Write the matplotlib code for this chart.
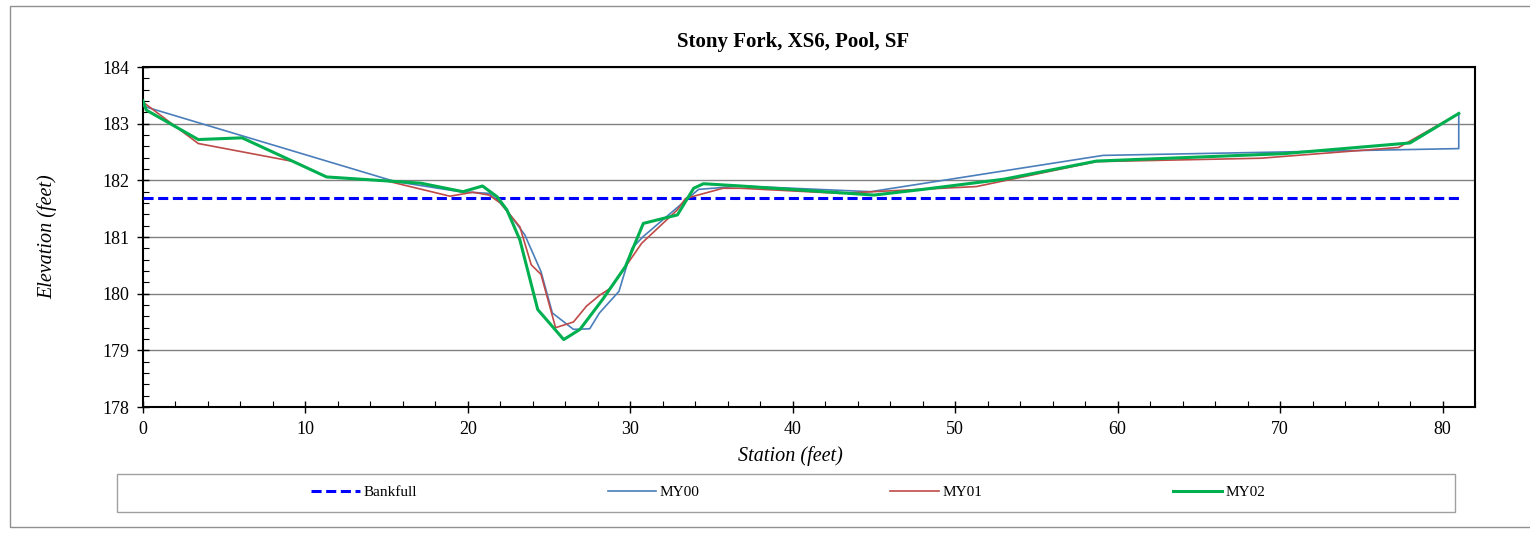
import matplotlib.pyplot as plt
from matplotlib.patches import Rectangle
from matplotlib.ticker import MultipleLocator

# Данные сечения (станция в футах, отметка в футах)
station_bankfull = [0, 81.0]
elev_bankfull = [181.68, 181.68]

station_my00 = [0, 15.5, 19.5, 21.3, 22.0, 22.6, 23.5, 23.9, 24.5, 25.2, 26.5, 27.5, 28.1,
                29.3, 30.1, 30.8, 34.2, 36.8, 44.8, 59.1, 81.0, 81.0]
elev_my00 = [183.31, 181.98, 181.80, 181.77, 181.60, 181.39, 181.04, 180.78, 180.39, 179.66,
             179.37, 179.38, 179.66, 180.04, 180.80, 181.01, 181.84, 181.90, 181.80, 182.44,
             182.56, 183.18]

station_my01 = [0, 3.4, 9.3, 11.3, 15.0, 18.9, 20.3, 21.3, 22.0, 23.2, 23.9, 24.5, 25.4, 26.5,
                27.3, 28.1, 28.8, 30.7, 32.9, 33.4, 35.7, 36.8, 42.9, 51.3, 58.7, 68.8, 77.3, 81.0]
elev_my01 = [183.38, 182.65, 182.33, 182.06, 181.99, 181.72, 181.79, 181.74, 181.60, 181.18,
             180.51, 180.34, 179.40, 179.50, 179.78, 179.97, 180.10, 180.89, 181.48, 181.68,
             181.86, 181.86, 181.77, 181.89, 182.33, 182.39, 182.58, 183.18]

station_my02 = [0, 0.2, 3.4, 6.1, 11.3, 17.1, 19.7, 20.9, 21.8, 22.4, 23.2, 24.3, 25.9, 26.9,
                28.3, 29.7, 30.8, 32.9, 33.9, 34.5, 36.8, 45.0, 48.0, 53.0, 58.7, 70.2, 78.0, 81.0]
elev_my02 = [183.40, 183.24, 182.72, 182.75, 182.06, 181.95, 181.80, 181.90, 181.71, 181.48,
             180.95, 179.72, 179.19, 179.37, 179.90, 180.48, 181.24, 181.39, 181.86, 181.94,
             181.90, 181.74, 181.84, 182.02, 182.34, 182.47, 182.66, 183.18]

W, H = 1530, 548


def main():
    plt.rcParams['font.family'] = ['Liberation Serif', 'DejaVu Serif']
    fig = plt.figure(figsize=(W / 100, H / 100), dpi=100)
    ax = fig.add_axes([143 / W, 1 - 407 / H, (1475 - 143) / W, (407 - 67) / H])

    # Линии
    ax.plot(station_bankfull, elev_bankfull, color='#0000ff', lw=2.2,
            dashes=(3.3, 1.5), label='Bankfull', zorder=3)
    ax.plot(station_my00, elev_my00, color='#4a7ebb', lw=1.2, label='MY00', zorder=4)
    ax.plot(station_my01, elev_my01, color='#be4b48', lw=1.2, label='MY01', zorder=5)
    ax.plot(station_my02, elev_my02, color='#00b050', lw=2.2, label='MY02', zorder=6)

    # Оси
    ax.set_xlim(0, 82)
    ax.set_ylim(178, 184)
    ax.xaxis.set_major_locator(MultipleLocator(10))
    ax.xaxis.set_minor_locator(MultipleLocator(2))
    ax.yaxis.set_major_locator(MultipleLocator(1))
    ax.yaxis.set_minor_locator(MultipleLocator(0.2))
    ax.tick_params(which='major', direction='inout', length=8, width=1, labelsize=13, pad=6)
    ax.tick_params(which='minor', direction='in', length=4, width=0.8)
    ax.grid(axis='y', which='major', color='#808080', lw=1)
    for s in ax.spines.values():
        s.set_linewidth(1.5)

    fig.text(793 / W, 1 - 42 / H, 'Stony Fork, XS6, Pool, SF', fontsize=15,
             fontweight='bold', ha='center', va='center')
    ax.set_xlabel('Station (feet)', fontsize=14.5, style='italic', labelpad=6, x=0.486)
    ax.set_ylabel('Elevation (feet)', fontsize=14.5, style='italic', labelpad=32)

    # Рамка легенды и внешняя рамка
    fig.patches.append(Rectangle((117 / W, 1 - 512 / H), 1338 / W, 38 / H, fill=False,
                                 edgecolor='#a0a0a0', lw=1, transform=fig.transFigure))
    fig.patches.append(Rectangle((10 / W, 1 - 527 / H), 1.5, 521 / H, fill=False,
                                 edgecolor='#909090', lw=1, transform=fig.transFigure))

    fig.legend(loc='center', bbox_to_anchor=(788 / W, 1 - 492 / H), ncol=4, frameon=False,
               fontsize=11, handlelength=3.2, handletextpad=0.2, columnspacing=12.5)

    fig.savefig('out.png', dpi=100)


if __name__ == '__main__':
    main()
